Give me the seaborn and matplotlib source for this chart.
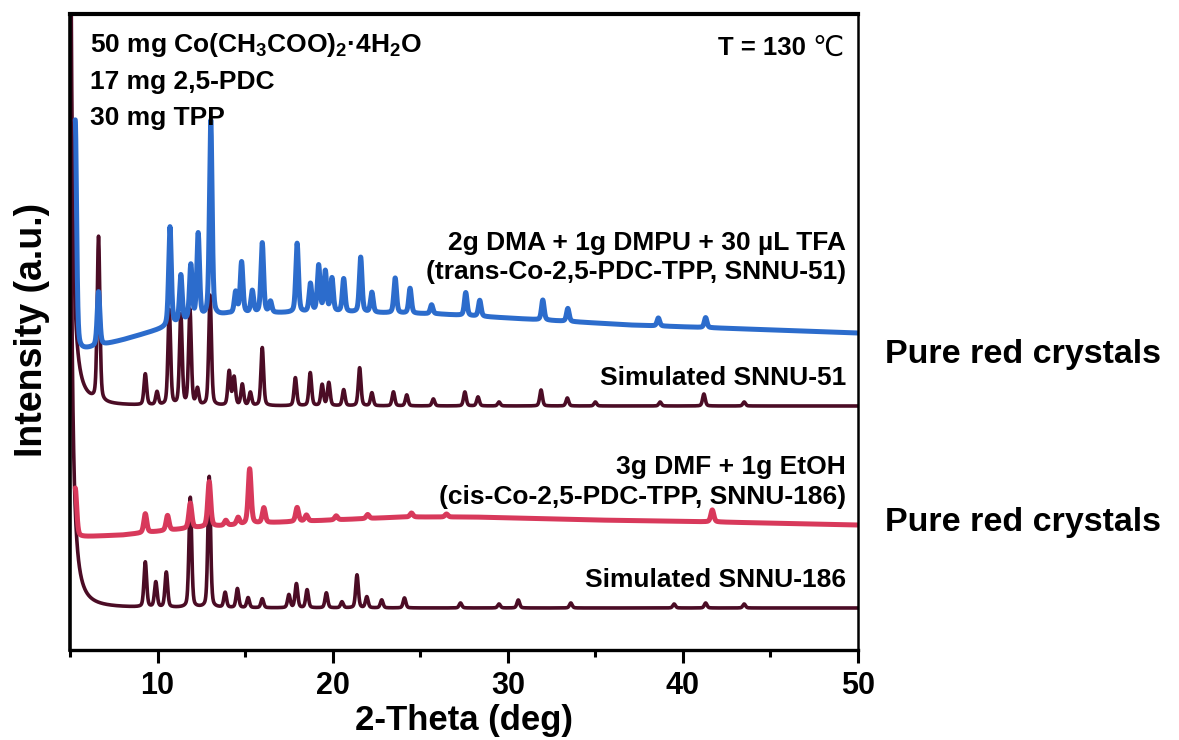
import numpy as np
import pandas as pd
import matplotlib
matplotlib.use("Agg")
import matplotlib.pyplot as plt
from matplotlib.ticker import MultipleLocator
import matplotlib.transforms as mtransforms
import seaborn as sns

# ---------------- data (2θ in degrees, intensity in a.u. incl. stacking offset) -------------
# Simulated SNNU-186 (bottom)
sim186_base = 42
sim186_pos = [9.3, 9.9, 10.5, 11.87, 12.95, 13.86, 14.56, 15.17, 15.98, 17.5, 17.93,
              18.54, 19.64, 20.53, 21.39, 21.95, 22.8, 24.1, 27.3, 29.5, 30.6, 33.6,
              39.5, 41.3, 43.5]
sim186_int = [45, 25, 35, 110, 131, 15, 19, 10, 9, 13, 24,
              18, 15, 6, 33, 11, 8, 10, 5, 4, 8, 5,
              4, 5, 4]

# Experimental, 3g DMF + 1g EtOH (cis, SNNU-186)
cis_base_tt = [5.3, 8, 12, 16, 20, 24, 28, 35, 42, 50]
cis_base_y = [113, 115, 122, 127, 130, 133, 133, 130, 128, 125]
cis_pos = [5.3, 9.3, 10.57, 11.87, 12.95, 13.9, 14.6, 15.26, 16.07, 17.97, 18.5,
           20.2, 22.0, 24.5, 26.5, 41.68]
cis_int = [49, 19, 15, 25, 45, 5, 7, 55, 15, 14, 6,
           4, 4, 4, 3, 12]

# Simulated SNNU-51 (middle)
sim51_base = 244
sim51_pos = [6.63, 9.3, 9.97, 10.67, 11.33, 11.85, 12.28, 13.0, 14.09, 14.37, 14.84,
             15.3, 15.98, 17.87, 18.72, 19.4, 19.78, 20.63, 21.54, 22.24, 23.47, 24.23,
             25.75, 27.55, 28.3, 29.5, 31.9, 33.4, 35.0, 38.7, 41.2, 43.5]
sim51_int = [164, 31, 13, 95, 90, 95, 16, 110, 34, 28, 21,
             13, 58, 28, 33, 21, 23, 16, 38, 13, 14, 11,
             7, 14, 9, 4, 16, 8, 4, 4, 12, 4]

# Experimental, 2g DMA + 1g DMPU + 30 µL TFA (trans, SNNU-51)
trans_base_tt = [5.3, 8, 10, 12, 14, 20, 26, 32, 37, 42, 50]
trans_base_y = [298, 310, 320, 330, 336, 338, 336, 330, 325, 322, 317]
trans_pos = [5.3, 6.63, 10.71, 11.33, 11.9, 12.32, 13.04, 14.46, 14.8, 15.41, 15.98,
             16.45, 17.97, 18.73, 19.2, 19.58, 19.96, 20.63, 21.6, 22.24, 23.57,
             24.42, 25.65, 27.6, 28.4, 32.0, 33.43, 38.6, 41.3]
trans_int = [232, 54, 99, 47, 54, 84, 196, 21, 51, 22, 70,
             11, 69, 28, 46, 40, 33, 33, 55, 20, 35,
             25, 9, 23, 16, 20, 13, 8, 10]

# Low-angle scattering rise of the simulated patterns
low_angle_center = 4.9
low_angle_height = 1200

x_ticks = [10, 20, 30, 40, 50]


# ---------------- pattern construction ----------------
def pseudo_voigt(x, pos, heights, fwhm, eta):
    y = np.zeros_like(x)
    for c, h in zip(pos, heights):
        d2 = 4.0 * (x - c) ** 2 / fwhm ** 2
        y += h * (eta / (1.0 + d2) + (1.0 - eta) * np.exp(-np.log(2.0) * d2))
    return y


tt_sim = np.arange(5.0, 50.0001, 0.01)
tt_exp = np.arange(5.3, 50.0001, 0.01)

low_rise = low_angle_height / (1.0 + ((tt_sim - low_angle_center) / 0.12) ** 2)

y_sim186 = sim186_base + low_rise + pseudo_voigt(tt_sim, sim186_pos, sim186_int, 0.18, 0.35)
y_sim51 = sim51_base + low_rise + pseudo_voigt(tt_sim, sim51_pos, sim51_int, 0.18, 0.35)
y_cis = np.interp(tt_exp, cis_base_tt, cis_base_y) + pseudo_voigt(tt_exp, cis_pos, cis_int, 0.2, 0.4)
y_trans = np.interp(tt_exp, trans_base_tt, trans_base_y) + pseudo_voigt(tt_exp, trans_pos, trans_int, 0.18, 0.4)

patterns = pd.concat([
    pd.DataFrame({"tt": tt_sim, "I": y_sim186, "trace": "sim186"}),
    pd.DataFrame({"tt": tt_exp, "I": y_cis, "trace": "cis"}),
    pd.DataFrame({"tt": tt_sim, "I": y_sim51, "trace": "sim51"}),
    pd.DataFrame({"tt": tt_exp, "I": y_trans, "trace": "trans"}),
], ignore_index=True)

# ---------------- styling ----------------
sns.set_theme(style="white")
plt.rcParams["font.family"] = ["Liberation Sans", "DejaVu Sans"]
plt.rcParams["font.weight"] = "bold"
plt.rcParams["text.color"] = "black"
plt.rcParams["axes.labelcolor"] = "black"
plt.rcParams["xtick.color"] = "black"
plt.rcParams["mathtext.fontset"] = "custom"
plt.rcParams["mathtext.rm"] = "Liberation Sans:bold"
plt.rcParams["mathtext.it"] = "Liberation Sans:bold"
plt.rcParams["mathtext.bf"] = "Liberation Sans:bold"

MAROON = "#4b0c25"
RED = "#d8395b"
BLUE = "#2c6ccc"

fig = plt.figure(figsize=(11.79, 7.40), dpi=100)
ax = fig.add_axes([70 / 1179, 90 / 740, 788 / 1179, 636 / 740])

styles = {
    "sim186": (MAROON, 2.6, 1),
    "cis": (RED, 3.6, 2),
    "sim51": (MAROON, 2.6, 3),
    "trans": (BLUE, 3.6, 4),
}
for name, (col, lw, z) in styles.items():
    sub = patterns[patterns["trace"] == name]
    sns.lineplot(data=sub, x="tt", y="I", ax=ax, color=col, lw=lw,
                 estimator=None, sort=False, zorder=z, legend=False)

ax.set_xlim(5, 50)
ax.set_ylim(0, 636)
ax.set_yticks([])
ax.set_xticks(x_ticks)
ax.xaxis.set_minor_locator(MultipleLocator(5))
ax.tick_params(axis="x", which="major", direction="out", length=9, width=2.2,
               labelsize=22, pad=6, bottom=True, colors="black")
ax.tick_params(axis="x", which="minor", direction="out", length=5, width=2.2,
               bottom=True, colors="black")
for lab in ax.get_xticklabels():
    lab.set_fontweight("bold")

for side, w in {"left": 2.6, "bottom": 2.4, "top": 3.0, "right": 1.8}.items():
    ax.spines[side].set_linewidth(w)
    ax.spines[side].set_color("black")
    ax.spines[side].set_zorder(6)

ax.set_xlabel("2-Theta (deg)", fontsize=25, fontweight="bold", color="black")
ax.xaxis.set_label_coords(0.5, -0.085)
ax.xaxis.label.set_va("top")
ax.set_ylabel("Intensity (a.u.)", fontsize=27, fontweight="bold", color="black")
ax.yaxis.set_label_coords(-0.026, 0.503)

# ---------------- annotations ----------------
tr = mtransforms.blended_transform_factory(ax.transAxes, ax.transData)
lab_kw = dict(transform=tr, ha="right", va="center", fontsize=19, fontweight="bold",
              color="black", zorder=7)
ax.text(0.985, 650 - 243, "2g DMA + 1g DMPU + 30 µL TFA", **lab_kw)
ax.text(0.985, 650 - 272, "(trans-Co-2,5-PDC-TPP, SNNU-51)", **lab_kw)
ax.text(0.985, 650 - 378, "Simulated SNNU-51", **lab_kw)
ax.text(0.985, 650 - 467, "3g DMF + 1g EtOH", **lab_kw)
ax.text(0.985, 650 - 497, "(cis-Co-2,5-PDC-TPP, SNNU-186)", **lab_kw)
ax.text(0.985, 650 - 580, "Simulated SNNU-186", **lab_kw)

syn_kw = dict(transform=tr, ha="left", va="center", fontsize=19, fontweight="bold",
              color="black", zorder=7)
ax.text(0.025, 650 - 45, r"50 mg Co(CH$_3$COO)$_2$·4H$_2$O", **syn_kw)
ax.text(0.025, 650 - 82, "17 mg 2,5-PDC", **syn_kw)
ax.text(0.025, 650 - 118, "30 mg TPP", **syn_kw)

ax.text((718 - 70) / 788, 650 - 48, "T = 130", transform=tr, ha="left", va="center",
        fontsize=18.5, fontweight="bold", color="black", zorder=7)
ax.text((812 - 70) / 788, 650 - 48, "℃", transform=tr, ha="left", va="center",
        fontsize=20, fontweight="normal", family=["DejaVu Sans"], color="black", zorder=7)

fig.text(885 / 1179, 1 - 355 / 740, "Pure red crystals", ha="left", va="center",
         fontsize=24.5, fontweight="bold", color="black")
fig.text(885 / 1179, 1 - 523 / 740, "Pure red crystals", ha="left", va="center",
         fontsize=24.5, fontweight="bold", color="black")

fig.savefig("out.png", dpi=100, facecolor="white")
